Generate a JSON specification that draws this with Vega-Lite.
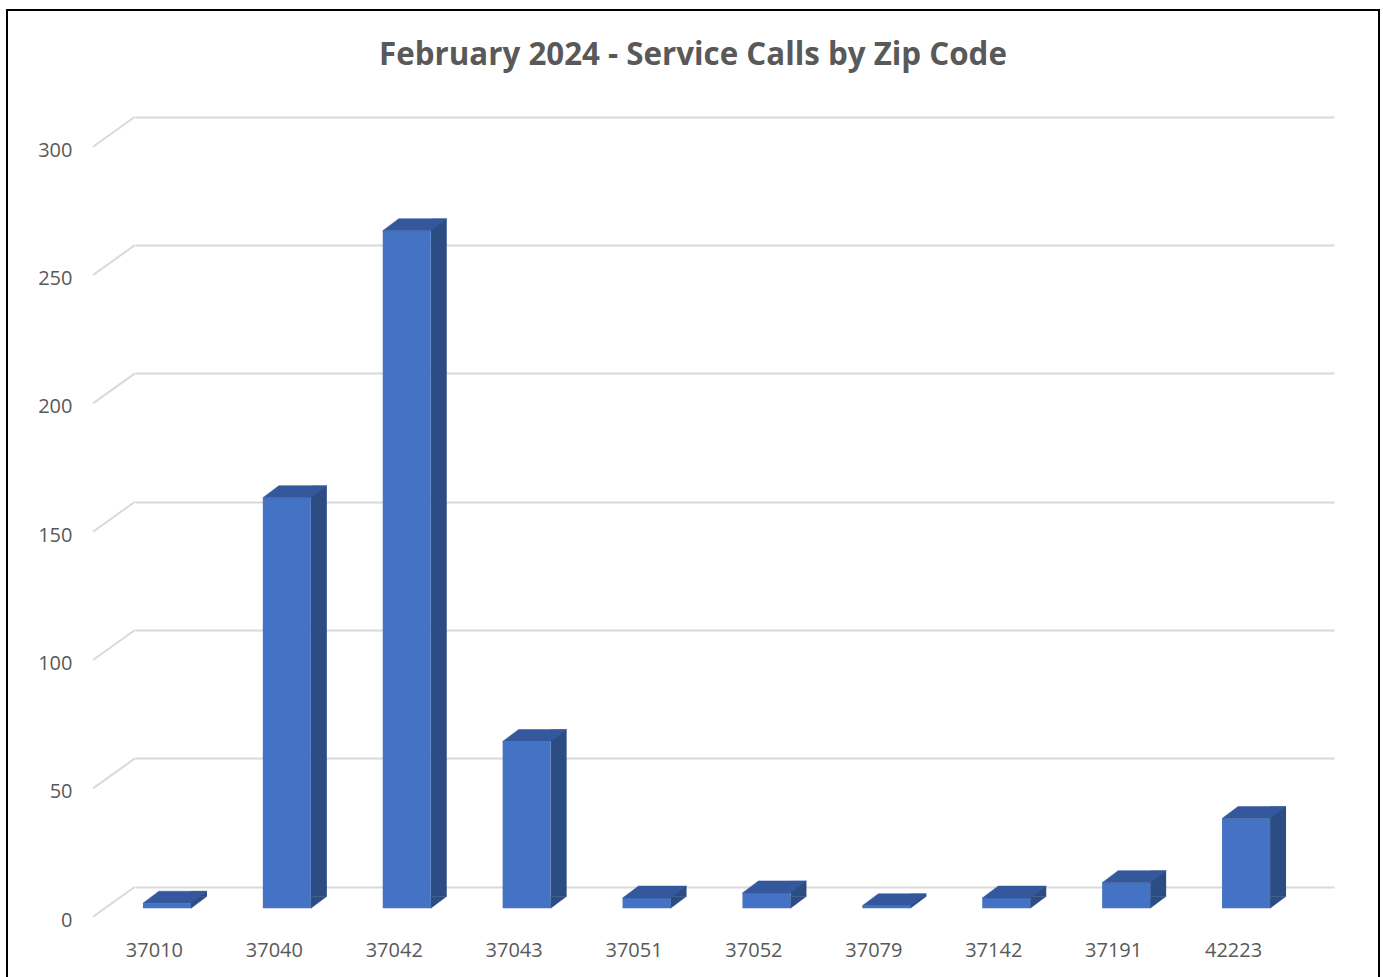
{
  "$schema": "https://vega.github.io/schema/vega-lite/v6.json",
  "autosize": {"type": "none"},
  "padding": {"left": 7, "top": 10, "right": 4, "bottom": -2},
  "width": 1372,
  "height": 969,
  "background": "white",
  "config": {"view": {"stroke": "#000000", "strokeWidth": 2}},
  "title": {
    "text": "February 2024 - Service Calls by Zip Code",
    "font": "Open Sans",
    "fontSize": 31.3,
    "fontWeight": "bold",
    "color": "#595959",
    "anchor": "middle",
    "baseline": "alphabetic",
    "offset": -86
  },
  "data": {
    "values": [
      {"zip": "37010", "calls": 2},
      {"zip": "37040", "calls": 160},
      {"zip": "37042", "calls": 264},
      {"zip": "37043", "calls": 65},
      {"zip": "37051", "calls": 4},
      {"zip": "37052", "calls": 6},
      {"zip": "37079", "calls": 1},
      {"zip": "37142", "calls": 4},
      {"zip": "37191", "calls": 10},
      {"zip": "42223", "calls": 35}
    ]
  },
  "encoding": {
    "x": {
      "field": "zip",
      "type": "nominal",
      "sort": null,
      "scale": {"range": [128, 1327], "paddingInner": 0, "paddingOuter": 0},
      "axis": {
        "title": null,
        "domain": false,
        "ticks": false,
        "tickSize": 0,
        "grid": false,
        "labelPadding": 0,
        "labelOffset": -40.5,
        "offset": -29,
        "labelBaseline": "middle",
        "labelAngle": 0,
        "labelFont": "Open Sans",
        "labelFontSize": 20,
        "labelColor": "#595959"
      }
    }
  },
  "layer": [
    {
      "data": {"values": [{"v": 0}, {"v": 50}, {"v": 100}, {"v": 150}, {"v": 200}, {"v": 250}, {"v": 300}]},
      "mark": {"type": "rule", "color": "#D9D9D9", "strokeWidth": 2, "x2Offset": -42, "y2Offset": 30},
      "encoding": {
        "x": {"datum": "37010", "bandPosition": 0},
        "x2": {"datum": "37010", "bandPosition": 0},
        "y": {
          "field": "v",
          "type": "quantitative",
          "scale": {"domain": [0, 300], "range": [876.7, 106.7], "nice": false, "zero": true},
          "axis": {
            "title": null,
            "domain": false,
            "ticks": false,
            "tickSize": 0,
            "grid": true,
            "gridColor": "#D9D9D9",
            "gridWidth": 2,
            "values": [0, 50, 100, 150, 200, 250, 300],
            "labelPadding": 0,
            "offset": -65,
            "labelOffset": 33.5,
            "labelFont": "Open Sans",
            "labelFontSize": 20,
            "labelColor": "#595959"
          }
        },
        "y2": {"field": "v"}
      }
    },
    {
      "mark": {"type": "bar", "color": "#2C4C84", "width": 16, "xOffset": 4, "yOffset": 9.6, "y2Offset": 9.6},
      "encoding": {
        "y": {"field": "calls", "type": "quantitative"},
        "y2": {"datum": 0}
      }
    },
    {
      "mark": {"type": "point", "filled": true, "opacity": 1, "color": "#2C4C84", "stroke": "#2C4C84", "strokeWidth": 0.5, "size": 10000, "shape": "M0.48,-0.24L0.48,0L0.8,-0.24Z", "xOffset": -28, "yOffset": 21.6},
      "encoding": {
        "y": {"datum": 0}
      }
    },
    {
      "mark": {"type": "bar", "color": "#4472C4", "width": 48, "xOffset": -28, "yOffset": 21.6, "y2Offset": 21.6},
      "encoding": {
        "y": {"field": "calls", "type": "quantitative"},
        "y2": {"datum": 0}
      }
    },
    {
      "mark": {"type": "point", "filled": true, "opacity": 1, "color": "#34589B", "stroke": "#34589B", "strokeWidth": 0.5, "size": 10000, "shape": "M-0.48,0L0.48,0L0.8,-0.24L-0.16,-0.24Z", "xOffset": -28, "yOffset": 21.6},
      "encoding": {
        "y": {"field": "calls", "type": "quantitative"}
      }
    }
  ]
}
